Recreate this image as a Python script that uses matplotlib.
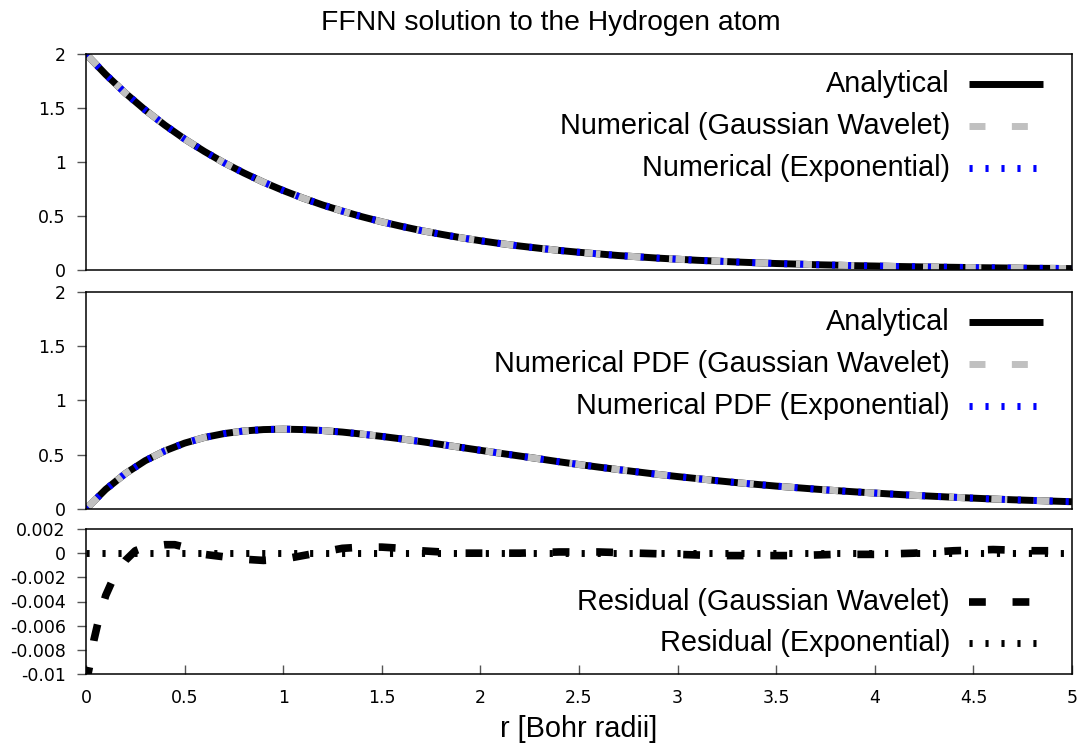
import numpy as np
import matplotlib
matplotlib.use("Agg")
import matplotlib.pyplot as plt

plt.rcParams['axes.unicode_minus'] = False

# values, step 0.1 in r
r = [0.0, 0.1, 0.2, 0.3, 0.4, 0.5, 0.6, 0.7, 0.8, 0.9,
     1.0, 1.1, 1.2, 1.3, 1.4, 1.5, 1.6, 1.7, 1.8, 1.9,
     2.0, 2.1, 2.2, 2.3, 2.4, 2.5, 2.6, 2.7, 2.8, 2.9,
     3.0, 3.1, 3.2, 3.3, 3.4, 3.5, 3.6, 3.7, 3.8, 3.9,
     4.0, 4.1, 4.2, 4.3, 4.4, 4.5, 4.6, 4.7, 4.8, 4.9, 5.0]

psi_analytical = [2.000, 1.810, 1.637, 1.482, 1.341, 1.213, 1.098, 0.993, 0.899, 0.813,
                  0.736, 0.666, 0.602, 0.545, 0.493, 0.446, 0.404, 0.365, 0.331, 0.299,
                  0.271, 0.245, 0.222, 0.201, 0.181, 0.164, 0.149, 0.134, 0.122, 0.110,
                  0.100, 0.090, 0.082, 0.074, 0.067, 0.060, 0.055, 0.049, 0.045, 0.040,
                  0.037, 0.033, 0.030, 0.027, 0.025, 0.022, 0.020, 0.018, 0.016, 0.015, 0.013]
psi_gauss = psi_analytical
psi_exp = psi_analytical

pdf_analytical = [0.000, 0.181, 0.327, 0.445, 0.536, 0.607, 0.659, 0.695, 0.719, 0.732,
                  0.736, 0.732, 0.723, 0.709, 0.690, 0.669, 0.646, 0.621, 0.595, 0.568,
                  0.541, 0.514, 0.488, 0.462, 0.435, 0.410, 0.386, 0.363, 0.341, 0.319,
                  0.299, 0.280, 0.261, 0.243, 0.227, 0.211, 0.197, 0.183, 0.170, 0.158,
                  0.147, 0.136, 0.126, 0.117, 0.108, 0.100, 0.092, 0.085, 0.079, 0.073, 0.067]
pdf_gauss = pdf_analytical
pdf_exp = pdf_analytical

r_res = [0.00, 0.02, 0.04, 0.06, 0.08, 0.10, 0.13, 0.16, 0.20, 0.25, 0.30, 0.35,
         0.40, 0.45, 0.50, 0.55, 0.60, 0.70, 0.80, 0.90, 1.00, 1.10, 1.20, 1.30,
         1.40, 1.50, 1.60, 1.70, 1.80, 1.90, 2.00, 2.20, 2.40, 2.60, 2.80, 3.00,
         3.20, 3.40, 3.60, 3.80, 4.00, 4.20, 4.40, 4.60, 4.80, 5.00]
res_gauss = [-0.0108, -0.0092, -0.0072, -0.0058, -0.0046, -0.0035, -0.0024, -0.0015,
             -0.0006, 0.0002, 0.0005, 0.0006, 0.0007, 0.0007, 0.0005, 0.0002, -0.0001,
             -0.0003, -0.0005, -0.0006, -0.0005, -0.0002, 0.0001, 0.0004, 0.0005,
             0.0005, 0.0004, 0.0002, 0.0001, 0.0000, 0.0000, 0.0000, 0.0001, 0.0001,
             0.0000, -0.0001, -0.0002, -0.0002, -0.0002, -0.0001, -0.0001, 0.0000,
             0.0002, 0.0003, 0.0002, 0.0002]
r_res_exp = [0.0, 1.0, 2.0, 3.0, 4.0, 5.0]
res_exp = [0.0, 0.0, 0.0, 0.0, 0.0, 0.0]

top_labels = ["Analytical", "Numerical (Gaussian Wavelet)", "Numerical (Exponential)"]
mid_labels = ["Analytical", "Numerical PDF (Gaussian Wavelet)", "Numerical PDF (Exponential)"]
res_labels = ["Residual (Gaussian Wavelet)", "Residual (Exponential)"]

sans = ['Liberation Sans', 'DejaVu Sans']
FS = 20.8
LW = 5.0
styles = [dict(color='black', lw=LW, ls='-'),
          dict(color='#c0c0c0', lw=LW, ls=(0, (2.3, 3.8))),
          dict(color='#0000ff', lw=LW, ls=(0, (0.45, 1.85)))]
res_styles = [dict(color='black', lw=5.5, ls=(0, (2.2, 3.5))),
              dict(color='black', lw=5.0, ls=(0, (0.45, 1.85)))]

fig = plt.figure(figsize=(10.8, 7.44), dpi=100)
L, W = 86 / 1080, 986 / 1080
ax1 = fig.add_axes([L, 1 - 270 / 744, W, 216 / 744])
ax2 = fig.add_axes([L, 1 - 509 / 744, W, 217 / 744])
ax3 = fig.add_axes([L, 1 - 674 / 744, W, 145 / 744])


def style_axis(ax, yticks, ylabels, xlabels=False):
    ax.set_xlim(0, 5)
    ax.set_yticks(yticks)
    ax.set_yticklabels(ylabels)
    ax.tick_params(axis='y', direction='out', length=6.5, width=1, color='#555555',
                   labelsize=12.5, pad=8, right=False)
    if xlabels:
        ax.set_xticks([0, 0.5, 1, 1.5, 2, 2.5, 3, 3.5, 4, 4.5, 5])
        ax.set_xticklabels(['0', '0.5', '1', '1.5', '2', '2.5', '3', '3.5', '4', '4.5', '5'])
        ax.tick_params(axis='x', direction='in', length=6.5, width=1, color='#555555',
                       labelsize=12.5, pad=11, top=False)
    else:
        ax.set_xticks([])
    for s in ax.spines.values():
        s.set_linewidth(1.1)


def legend_rows(ax, labels, sty, ys):
    for lab, st, y in zip(labels, sty, ys):
        ax.text(0.8763, y, lab, transform=ax.transAxes, ha='right', va='center',
                fontsize=FS, family=sans)
        ax.plot([0.8955, 0.9706], [y, y], transform=ax.transAxes, clip_on=False,
                solid_capstyle='butt', dash_capstyle='butt', **st)


for ax, ys, labels in [(ax1, [psi_analytical, psi_gauss, psi_exp], top_labels),
                       (ax2, [pdf_analytical, pdf_gauss, pdf_exp], mid_labels)]:
    for y, st in zip(ys, styles):
        ax.plot(r, y, solid_capstyle='butt', dash_capstyle='butt', **st)
    ax.set_ylim(0, 2)
    style_axis(ax, [0, 0.5, 1, 1.5, 2], ['0', '0.5', '1', '1.5', '2'])
    legend_rows(ax, labels, styles, [0.861, 0.667, 0.474])

ax3.plot(r_res, res_gauss, dash_capstyle='butt', **res_styles[0])
ax3.plot(r_res_exp, res_exp, dash_capstyle='butt', **res_styles[1])
ax3.set_ylim(-0.01, 0.002)
res_ticks = [0.002, 0, -0.002, -0.004, -0.006, -0.008, -0.01]
style_axis(ax3, res_ticks, ['0.002', '0', '-0.002', '-0.004', '-0.006', '-0.008', '-0.01'],
           xlabels=True)
legend_rows(ax3, res_labels, res_styles, [0.497, 0.214])

fig.text(579 / 1080, 1 - 737 / 744, 'r [Bohr radii]', ha='center', va='baseline',
         fontsize=FS, family=sans)
fig.text(551 / 1080, 1 - 30 / 744, 'FFNN solution to the Hydrogen atom', ha='center',
         va='baseline', fontsize=20.3, family=sans)

fig.savefig('out.png', dpi=100)
